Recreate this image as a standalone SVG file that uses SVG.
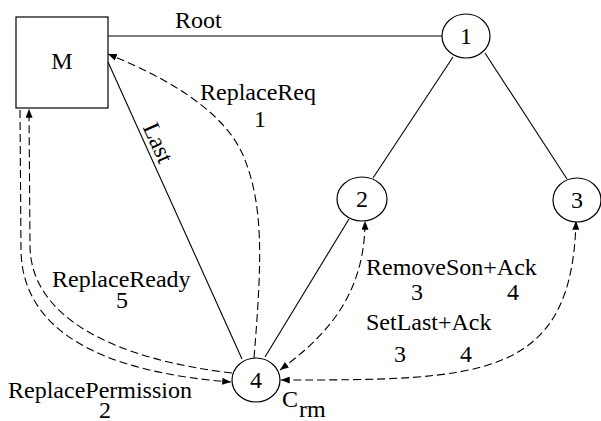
<svg xmlns="http://www.w3.org/2000/svg" width="601" height="421" viewBox="0 0 601 421">
<defs>
<style>
text{font-family:"Liberation Serif","Times New Roman",serif;font-size:24px;fill:#000}
.n{fill:#fff;stroke:#000;stroke-width:1.2}
.s{fill:none;stroke:#000;stroke-width:1.1}
.d{fill:none;stroke:#000;stroke-width:1.1;stroke-dasharray:8,4}
.m{text-anchor:middle}
</style>
<marker id="ah" viewBox="0 0 10 8" refX="10" refY="4" markerWidth="9" markerHeight="7" markerUnits="userSpaceOnUse" orient="auto-start-reverse">
<path d="M0,0 L10,4 L0,8 z" fill="#000"/>
</marker>
</defs>
<rect width="601" height="421" fill="#fff"/>
<g id="connectors">
<line class="s" x1="108" y1="36" x2="442" y2="36"/>
<line class="s" x1="453" y1="57" x2="373" y2="178"/>
<line class="s" x1="485" y1="53" x2="567" y2="179"/>
<line class="s" x1="108" y1="62" x2="242" y2="359"/>
<line class="s" x1="349" y1="219" x2="265" y2="357"/>
<path class="d" d="M254,358 C262,260 264,205 243,155 C222,108 162,76 108,54" marker-end="url(#ah)"/>
<path class="d" d="M20,110 L21,250 C22,330 100,372 231,382" marker-end="url(#ah)"/>
<path class="d" d="M232,373 C120,360 30,320 30,245 L29,109" marker-end="url(#ah)"/>
<path class="d" d="M280,370 C320,340 365,300 365,221" marker-start="url(#ah)" marker-end="url(#ah)"/>
<path class="d" d="M281,380 C480,380 572,380 576,221" marker-start="url(#ah)" marker-end="url(#ah)"/>
</g>
<g id="nodeM"><rect class="n" x="16" y="17" width="92" height="91"/><text class="m" x="62" y="69">M</text></g>
<g id="node1"><ellipse class="n" cx="466" cy="36" rx="24" ry="22"/><text class="m" x="466" y="44">1</text></g>
<g id="node2"><ellipse class="n" cx="362" cy="199" rx="25" ry="22"/><text class="m" x="362" y="207">2</text></g>
<g id="node3"><ellipse class="n" cx="577" cy="200" rx="24" ry="22"/><text class="m" x="577" y="208">3</text></g>
<g id="node4"><ellipse class="n" cx="256" cy="380" rx="24" ry="22"/><text class="m" x="256" y="388">4</text></g>
<g id="labels">
<text x="175" y="28">Root</text>
<text x="200" y="100">ReplaceReq</text>
<text class="m" x="260" y="127">1</text>
<text class="m" x="151" y="146" transform="rotate(65.6 151 146)">Last</text>
<text x="52" y="287">ReplaceReady</text>
<text class="m" x="122" y="308">5</text>
<text x="8" y="398">ReplacePermission</text>
<text class="m" x="105" y="418">2</text>
<text x="366" y="275">RemoveSon+Ack</text>
<text class="m" x="417" y="300">3</text>
<text class="m" x="513" y="300">4</text>
<text x="366" y="330">SetLast+Ack</text>
<text class="m" x="400" y="362">3</text>
<text class="m" x="466" y="362">4</text>
<text x="282" y="407">C</text>
<text x="299" y="417">rm</text>
</g>
</svg>
